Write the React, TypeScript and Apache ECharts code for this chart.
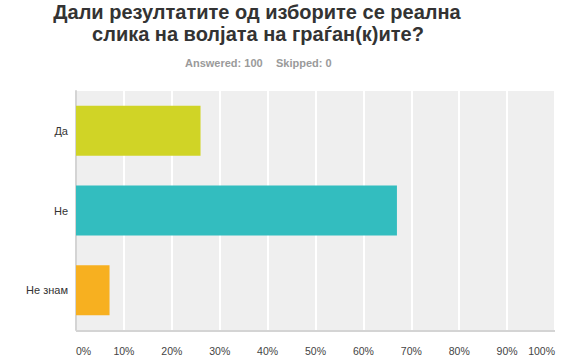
import React, { useEffect, useRef } from "react";
import * as echarts from "echarts";

const categories = ["Да", "Не", "Не знам"];
const values = [26, 67, 7];
const colors = ["#d0d426", "#33bdbf", "#f7b020"];
const answered = 100;
const skipped = 0;
const titleLines = ["Дали резултатите од изборите се реална", "слика на волјата на граѓан(к)ите?"];

const FONT = "Arial, 'Liberation Sans', sans-serif";

export default function App() {
  const ref = useRef<HTMLDivElement>(null);
  useEffect(() => {
    if (!ref.current) return;
    const chart = echarts.init(ref.current, null, { renderer: "svg" });
    const txt = (text: string, x: number, y: number, size: number, color: string, align: string) => ({
      type: "text",
      x,
      y,
      style: {
        text,
        fill: color,
        fontFamily: FONT,
        fontSize: size,
        fontWeight: "bold",
        textAlign: align,
        textVerticalAlign: "middle",
      },
    });
    chart.setOption({
      animation: false,
      backgroundColor: "#ffffff",
      textStyle: { fontFamily: FONT },
      grid: {
        left: 76,
        right: 13,
        top: 91,
        bottom: 34,
        show: true,
        backgroundColor: "#efefef",
        borderWidth: 0,
        containLabel: false,
      },
      xAxis: {
        type: "value",
        min: 0,
        max: 100,
        interval: 10,
        axisLine: { show: false },
        axisTick: { show: false },
        splitLine: { show: true, lineStyle: { color: "#ffffff", width: 2 } },
        axisLabel: {
          formatter: "{value}%",
          color: "#444444",
          fontSize: 10.5,
          margin: 15,
          alignMinLabel: "left",
          alignMaxLabel: "right",
        },
      },
      yAxis: {
        type: "category",
        data: categories,
        inverse: true,
        axisLine: { show: true, lineStyle: { color: "#d4d4d4", width: 2 } },
        axisTick: { show: false },
        axisLabel: { color: "#333333", fontSize: 11, margin: 8 },
        splitLine: { show: false },
      },
      graphic: [
        txt(titleLines[0], 257, 11.5, 20, "#333333", "center"),
        txt(titleLines[1], 258, 33.5, 20, "#333333", "center"),
        txt(`Answered: ${answered}`, 185, 63, 11, "#9a9a9a", "left"),
        txt(`Skipped: ${skipped}`, 276, 63, 11, "#9a9a9a", "left"),
        {
          type: "line",
          shape: { x1: 76, y1: 331, x2: 555, y2: 331 },
          style: { stroke: "#d4d4d4", lineWidth: 2 },
          z: 10,
        },
      ],
      series: [
        {
          type: "bar",
          barWidth: 50,
          data: values.map((v, i) => ({ value: v, itemStyle: { color: colors[i] } })),
        },
      ],
    });
    return () => chart.dispose();
  }, []);
  return <div ref={ref} style={{ width: 568, height: 364, position: "absolute", left: 0, top: 0 }} />;
}
